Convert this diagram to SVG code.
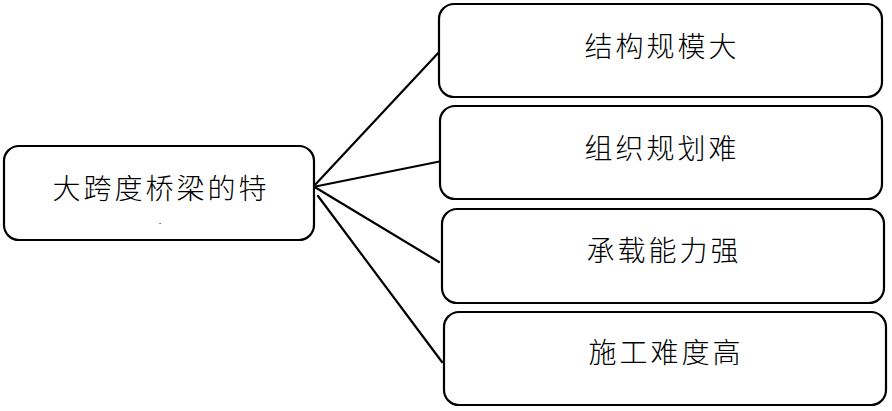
<svg xmlns="http://www.w3.org/2000/svg" width="892" height="411" viewBox="0 0 892 411">
<style>
.box{fill:#fff;stroke:#000;stroke-width:2.2}
.t{font-family:"Noto Sans CJK SC","Noto Sans CJK JP",sans-serif;font-size:28px;font-weight:300;letter-spacing:3px;text-anchor:middle;dominant-baseline:central;fill:#000}
.c line{stroke:#000;stroke-width:2.2;stroke-linecap:round}
</style>
<g class="c" id="connectors">
<line x1="313" y1="187" x2="441" y2="50"/>
<line x1="313" y1="187" x2="447" y2="160"/>
<line x1="313" y1="186" x2="439" y2="262"/>
<line x1="318" y1="196" x2="442" y2="362"/>
</g>
<g id="root">
<rect class="box" x="4" y="146" width="310" height="94" rx="15"/>
<text class="t" x="161" y="187">大跨度桥梁的特</text>
<text x="160" y="224" style="font-family:'Liberation Serif',serif;font-size:10px;text-anchor:middle">.</text>
</g>
<g id="n1">
<rect class="box" x="439" y="4" width="443" height="93" rx="15"/>
<text class="t" x="662" y="45">结构规模大</text>
</g>
<g id="n2">
<rect class="box" x="440" y="106" width="442" height="93" rx="15"/>
<text class="t" x="662" y="147">组织规划难</text>
</g>
<g id="n3">
<rect class="box" x="442" y="209" width="442" height="94" rx="15"/>
<text class="t" x="664" y="249">承载能力强</text>
</g>
<g id="n4">
<rect class="box" x="444" y="312" width="442" height="93" rx="15"/>
<text class="t" x="666" y="351">施工难度高</text>
</g>
</svg>
